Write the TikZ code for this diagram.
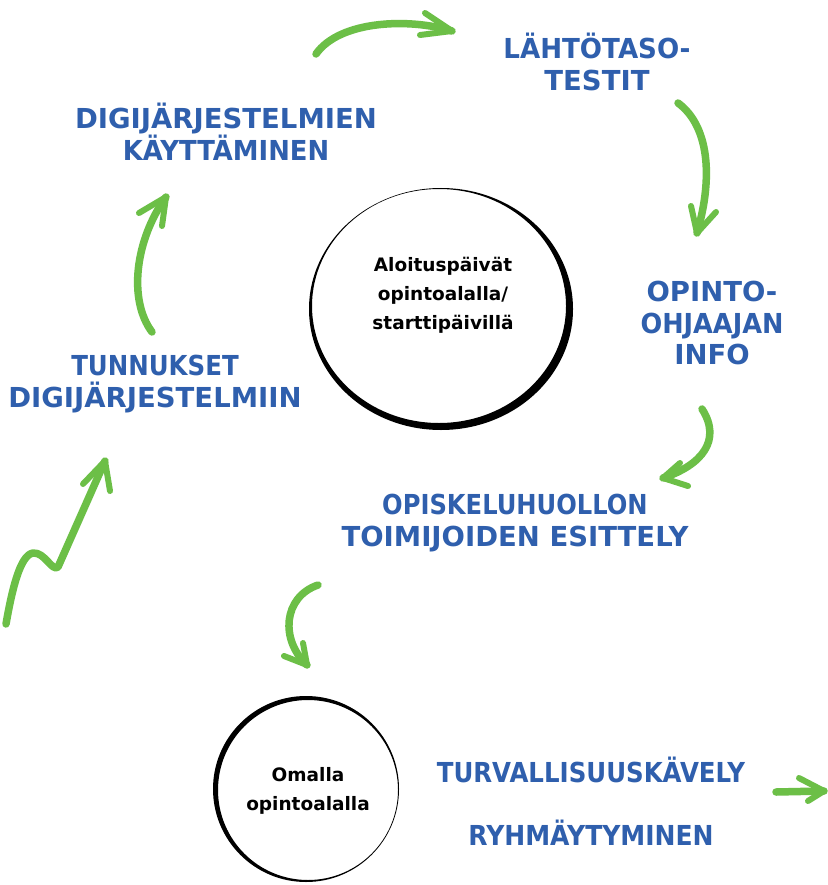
\documentclass[tikz,border=0pt]{standalone}
\usepackage{graphicx}
\usepackage{fontspec}
\setmainfont{DejaVu Sans}
\definecolor{tblue}{HTML}{2F5FAD}
\definecolor{agreen}{HTML}{6CBF47}
\newcommand{\hsq}[2]{\scalebox{#1}[1]{#2}}
\tikzset{
  lbl/.style={text=tblue, font=\bfseries\fontsize{27.5}{31.5}\selectfont, align=center, inner sep=0pt},
  ctext/.style={text=black, font=\bfseries\fontsize{18.5}{29}\selectfont, align=center, inner sep=0pt},
  garrow/.style={draw=agreen, line width=7.5pt, line cap=round, line join=round},
  gbarb/.style={draw=agreen, line width=6pt, line cap=round, line join=round},
}
\begin{document}
\begin{tikzpicture}[x=1pt,y=-1pt]
\path[fill=white, use as bounding box] (0,0) rectangle (827,885);

% circles
\fill[black, even odd rule] (441,309) ellipse [x radius=132pt, y radius=121pt]
  (439,306) ellipse [x radius=127pt, y radius=117pt];
\node[ctext] (start) at (443,295) {Aloituspäivät\\opintoalalla/\\starttipäivillä};

\fill[black, even odd rule] (306,789) circle [radius=93pt]
  (308,790) circle [radius=90pt];
\node[ctext] (omalla) at (308,791) {Omalla\\opintoalalla};

% labels
\node[lbl] (lahto) at (597,62) {\hsq{0.95}{LÄHTÖTASO-}\\TESTIT};
\node[lbl] (digik) at (226,132) {DIGIJÄRJESTELMIEN\\\hsq{0.94}{KÄYTTÄMINEN}};
\node[lbl] (opo) at (712,323) {OPINTO-\\\hsq{0.93}{OHJAAJAN}\\INFO};
\node[lbl] (tunn) at (155,384) {\hsq{0.89}{TUNNUKSET}\\DIGIJÄRJESTELMIIN};
\node[lbl] (opis) at (515,523) {\hsq{0.88}{OPISKELUHUOLLON}\\TOIMIJOIDEN ESITTELY};
\node[lbl] (turva) at (591,770) {\hsq{0.89}{TURVALLISUUSKÄVELY}};
\node[lbl] (ryhma) at (591,833) {\hsq{0.91}{RYHMÄYTYMINEN}};

% arrows
\coordinate (a1s) at (316,54); \coordinate (a1t) at (452,31);
\draw[garrow] (a1s) .. controls (340,20) and (410,18) .. (a1t);
\draw[gbarb] (425,13) -- (a1t) -- (420,35);

\coordinate (a2s) at (678,103); \coordinate (a2t) at (697,233);
\draw[garrow] (a2s) .. controls (708,125) and (714,175) .. (a2t);
\draw[gbarb] (691,206) -- (a2t) -- (716,212);

\coordinate (a3s) at (702,409); \coordinate (a3t) at (663,478);
\draw[garrow] (a3s) .. controls (722,440) and (702,465) .. (a3t);
\draw[gbarb] (680,463) -- (a3t) -- (688,486);

\coordinate (a4s) at (318,585); \coordinate (a4t) at (307,665);
\draw[garrow] (a4s) .. controls (283,597) and (280,640) .. (a4t);
\draw[gbarb] (303,643) -- (a4t) -- (284,656);

\coordinate (a5s) at (776,792); \coordinate (a5t) at (824,791);
\draw[garrow] (a5s) -- (a5t);
\draw[gbarb] (799,778) -- (a5t) -- (808,801);

\coordinate (a6s) at (6,624); \coordinate (a6t) at (105,461);
\draw[garrow] (a6s) .. controls (12,590) and (20,555) .. (33,553)
  .. controls (45,552) and (52,572) .. (58,567) -- (a6t);
\draw[gbarb] (83,484) -- (a6t) -- (110,491);

\coordinate (a7s) at (152,332); \coordinate (a7t) at (166,197);
\draw[garrow] (a7s) .. controls (128,300) and (135,240) .. (a7t);
\draw[gbarb] (139,213) -- (a7t) -- (162,226);
\end{tikzpicture}
\end{document}
